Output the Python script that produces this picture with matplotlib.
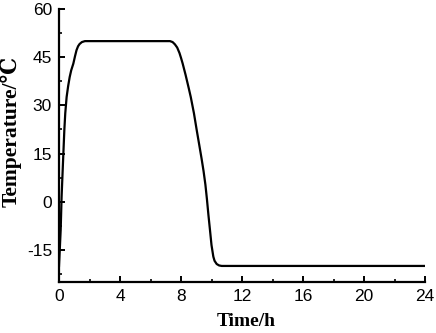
import matplotlib
matplotlib.use("Agg")
import matplotlib.pyplot as plt
from matplotlib.ticker import MultipleLocator

plt.rcParams['axes.unicode_minus'] = False

time_h = [0, 0.05, 0.11, 0.17, 0.26, 0.35, 0.41, 0.5, 0.6, 0.7, 0.8, 0.94,
          1.05, 1.15, 1.25, 1.35, 1.5, 1.7,
          7.28, 7.45, 7.6, 7.75, 7.9, 8.0, 8.11, 8.3, 8.5, 8.64, 8.85, 9.03,
          9.2, 9.35, 9.48, 9.6, 9.7, 9.8, 9.9, 10.0, 10.12, 10.2, 10.34, 10.5,
          10.67, 24]
temp_c = [-20, -15, -8.8, 1.5, 12, 22.3, 27.5, 32.6, 36, 38.8, 40.9, 43,
          45.3, 47.2, 48.4, 49.1, 49.7, 50,
          50, 49.7, 49, 48, 46.3, 44.8, 43, 39.5, 35.5, 32.6, 27.5, 22.3,
          17.6, 13.4, 9.5, 5.3, 0.8, -4.2, -8.8, -13.5, -17.1, -18.4, -19.4,
          -19.85, -20, -20]
x_ticks = [0, 4, 8, 12, 16, 20, 24]
y_ticks = [-15, 0, 15, 30, 45, 60]

fig = plt.figure(figsize=(4.36, 3.33), dpi=100)
ax = fig.add_axes([59/436, 1-282/333, (425-59)/436, (282-9)/333])
ax.plot(time_h, temp_c, color='black', lw=1.6, solid_joinstyle='round')
ax.set_xlim(0, 24)
ax.set_ylim(-25, 60)
ax.set_xticks(x_ticks)
ax.set_yticks(y_ticks)
ax.xaxis.set_minor_locator(MultipleLocator(2))
ax.yaxis.set_minor_locator(MultipleLocator(7.5))
for s in ['top', 'right']:
    ax.spines[s].set_visible(False)
for s in ['left', 'bottom']:
    ax.spines[s].set_linewidth(1.6)
ax.tick_params(which='major', direction='in', length=4, width=1.4,
               labelsize=12.5, pad=5)
ax.tick_params(which='minor', direction='in', length=2.5, width=1.2)
for lab in ax.get_xticklabels() + ax.get_yticklabels():
    lab.set_fontfamily('Liberation Sans')
ax.set_xlabel('Time/h', fontfamily=['Liberation Serif', 'DejaVu Serif'],
              fontweight='bold', fontsize=14)
ax.set_ylabel('Temperature/℃', fontfamily=['Liberation Serif', 'DejaVu Serif'],
              fontweight='bold', fontsize=15.5)
ax.xaxis.set_label_coords(0.512, -0.115)
ax.yaxis.set_label_coords(-0.102, 0.551)
fig.savefig('out.png', dpi=100)
